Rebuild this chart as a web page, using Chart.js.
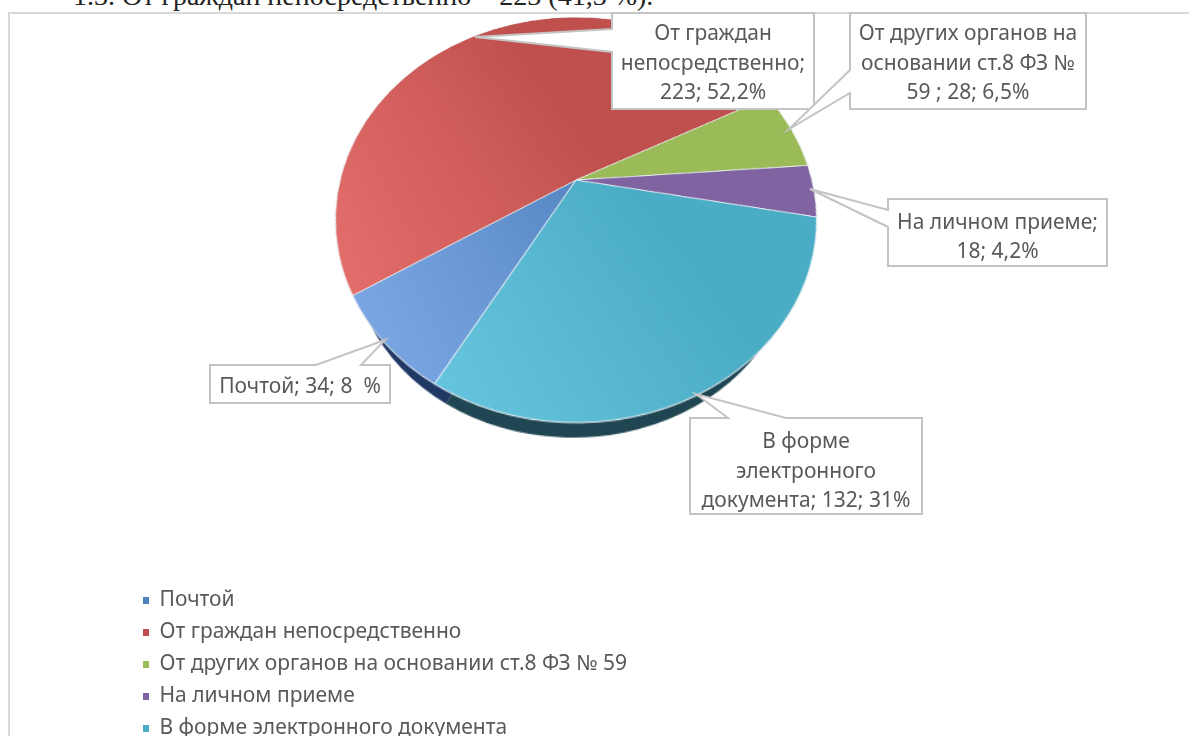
<!DOCTYPE html>
<html lang="ru">
<head>
<meta charset="utf-8">
<title>Обращения</title>
<script src="https://cdn.jsdelivr.net/npm/chart.js@4/dist/chart.umd.js"></script>
<style>
  html, body { margin: 0; padding: 0; background: #fff; overflow: hidden; width: 1189px; height: 736px; }
  .heading { position: absolute; left: 73px; top: -20px; font: 28px "Liberation Serif", serif; color: #222; white-space: nowrap; }
  .frame { position: absolute; left: 8px; top: 12px; width: 1300px; height: 800px; border: 2px solid #d9d9d9; background: #fff; }
  canvas { position: absolute; }
  /* pie is laid flat on a plane and tilted, hub of the pie = centre of the canvas */
  #depth, #pie { width: 600px; height: 600px; transform: perspective(676px) rotateX(34.3deg); transform-origin: 50% 50%; }
  #pie { left: 276px; top: -120px; }
  #depth { left: 273px; top: -80px; }
  #notes { left: 0; top: 0; }
</style>
</head>
<body>
<div class="heading">1.3. От граждан непосредственно – 223 (41,3 %).</div>
<div class="frame"></div>
<canvas id="depth" width="600" height="600"></canvas>
<canvas id="pie" width="600" height="600"></canvas>
<canvas id="notes" width="1189" height="760"></canvas>
<script>
const categories = ["Почтой", "От граждан непосредственно", "От других органов на основании ст.8 ФЗ № 59", "На личном приеме", "В форме электронного документа"];
const values = [34, 223, 28, 18, 132];
const calloutLines = [
  ["Почтой; 34; 8  %"],
  ["От граждан", "непосредственно;", "223; 52,2%"],
  ["От других органов на", "основании ст.8 ФЗ №", "59 ; 28; 6,5%"],
  ["На личном приеме;", "18; 4,2%"],
  ["В форме", "электронного", "документа; 132; 31%"]
];

const baseColors = ["#4f81bd", "#c0504d", "#9bbb59", "#8064a2", "#4bacc6"];
const lightColors = ["#7fabe8", "#e6706d", "#9bbb59", "#8064a2", "#6ccae4"];
const depthColors = ["#1f3864", "#632523", "#4f6228", "#3f3151", "#1f4652"];

const RADIUS = 236;
const START_ANGLE = 209.8;

// callout boxes: x, y, w, h, tip, the two points where the pointer leaves the box, text shift
const callouts = [
  { x: 210, y: 365, w: 180, h: 38, tip: [385, 340], base: [[316, 365], [361, 365]], dy: 3 },
  { x: 612, y: 13, w: 202, h: 96, tip: [475, 37], base: [[612, 29], [612, 52]], dy: 3 },
  { x: 850, y: 13, w: 236, h: 96, tip: [789, 129], base: [[850, 70], [850, 93]], dy: 3 },
  { x: 888, y: 199, w: 219, h: 67, tip: [810, 189], base: [[888, 210], [888, 227]], dy: 5 },
  { x: 690, y: 418, w: 232, h: 96, tip: [696, 394], base: [[728, 418], [786, 418]], dy: 6 }
];

const FONT = '"Noto Sans", sans-serif';
const TEXT_COLOR = "#595959";

function sliceGradient(context) {
  const i = context.dataIndex;
  const g = context.chart.ctx.createLinearGradient(64, 430, 420, 220);
  g.addColorStop(0, lightColors[i]);
  g.addColorStop(0.75, baseColors[i]);
  return g;
}

new Chart(document.getElementById("depth"), {
  type: "pie",
  data: { labels: categories, datasets: [{ data: values, backgroundColor: depthColors, borderWidth: 0 }] },
  options: {
    responsive: false,
    animation: false,
    rotation: START_ANGLE,
    radius: 216,
    layout: { padding: 0 },
    plugins: { legend: { display: false }, tooltip: { enabled: false } }
  }
});

new Chart(document.getElementById("pie"), {
  type: "pie",
  data: { labels: categories, datasets: [{ data: values, backgroundColor: sliceGradient, borderColor: "#e8eef2", borderWidth: 1 }] },
  options: {
    responsive: false,
    animation: false,
    rotation: START_ANGLE,
    radius: RADIUS,
    layout: { padding: 0 },
    plugins: { legend: { display: false }, tooltip: { enabled: false } }
  }
});

// draws the callouts on top of the tilted pie
const calloutPlugin = {
  id: "callouts",
  afterDraw(chart) {
    const ctx = chart.ctx;
    ctx.save();
    callouts.forEach((c, i) => {
      ctx.beginPath();
      const pts = pointerOutline(c);
      pts.forEach((p, k) => (k ? ctx.lineTo(p[0], p[1]) : ctx.moveTo(p[0], p[1])));
      ctx.closePath();
      ctx.fillStyle = "#fff";
      ctx.fill();
      ctx.strokeStyle = "#c4c4c4";
      ctx.lineWidth = 2;
      ctx.stroke();

      const lines = calloutLines[i];
      const lineH = 29.5;
      ctx.fillStyle = TEXT_COLOR;
      ctx.font = "21px " + FONT;
      ctx.textAlign = "center";
      ctx.textBaseline = "middle";
      const top = c.y + c.h / 2 + c.dy - (lines.length - 1) * lineH / 2;
      lines.forEach((t, k) => ctx.fillText(t, c.x + c.w / 2, top + k * lineH));
    });
    ctx.restore();
  }
};

function pointerOutline(c) {
  const r = c.x + c.w, b = c.y + c.h;
  if (c.base[0][0] === c.x) { // pointer on the left side
    return [[c.x, c.y], [r, c.y], [r, b], [c.x, b], c.base[1], c.tip, c.base[0]];
  }
  // pointer on the top side
  return [[c.x, c.y], c.base[0], c.tip, c.base[1], [r, c.y], [r, b], [c.x, b]];
}

new Chart(document.getElementById("notes"), {
  type: "pie",
  data: { labels: categories, datasets: [{ data: values, backgroundColor: baseColors, borderWidth: 0 }] },
  options: {
    responsive: false,
    animation: false,
    radius: 0,
    layout: { padding: { left: 132, bottom: 10 } },
    plugins: {
      tooltip: { enabled: false },
      legend: {
        position: "left",
        align: "end",
        labels: { boxWidth: 6, boxHeight: 7, padding: 11, color: TEXT_COLOR, font: { family: FONT, size: 21 } }
      }
    }
  },
  plugins: [calloutPlugin]
});
</script>
</body>
</html>
